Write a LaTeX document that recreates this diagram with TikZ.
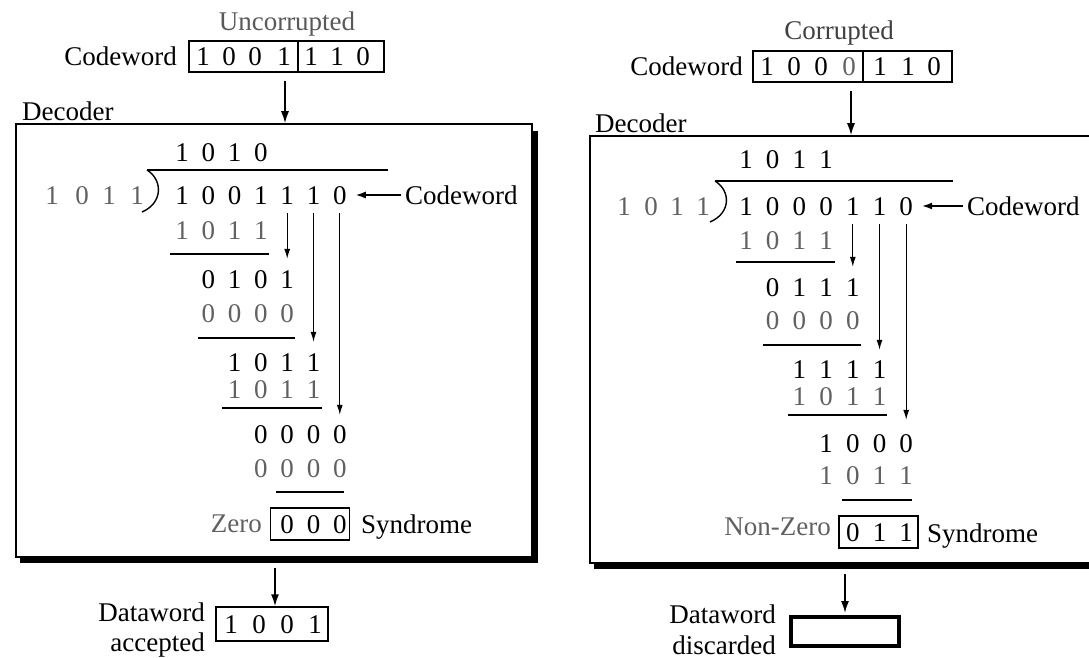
\documentclass[tikz,border=0pt]{standalone}
\usepackage{fontspec}
\setmainfont{Liberation Serif}
\usetikzlibrary{arrows.meta,calc}
\newcommand\drow[6][]{\foreach \d [count=\k from #4] in {#5}{\node[dig,#1] (#2#3-\k) at ({\xo+\dx*\k},#6) {\d};}}
\begin{document}
\begin{tikzpicture}[x=1pt,y=-1pt,
  every node/.style={font=\fontsize{27}{30}\selectfont, inner sep=0pt},
  dig/.style={text height=18pt, text depth=0pt, anchor=center},
  lbl/.style={text height=18pt, text depth=0pt},
  lite/.style={text=black!62},
  dk/.style={},
  ln/.style={line width=1.4pt},
  arr/.style={line width=1.6pt,-{Latex[length=12pt,width=8pt]}},
  sarr/.style={line width=1.1pt,-{Latex[length=10pt,width=6pt]}},
  box/.style={draw,line width=1.5pt}]
\useasboundingbox (0,0) rectangle (1089,658);
\clip (0,0) rectangle (1089,658);

% ================= LEFT PANEL =================
\def\xo{182}\def\dx{26.3}
\node[lbl,text=black!65] (Lunc) at (287,22) {Uncorrupted};
\node[lbl,anchor=east] (Lcwl) at (177,57) {Codeword};
\node[box,minimum width=195pt,minimum height=31pt] (Lcw) at (286.5,56.5) {};
\draw[ln] (298,41) -- (298,72);
\foreach \x/\d [count=\k] in {203/1,229/0,255/0,284/1,311/1,337/1,363/0}
  \node[dig] (Lw-\k) at (\x,57) {\d};
\node[box,minimum width=516pt,minimum height=433pt] (Ldec) at (274,340.5) {};
\draw[line width=5pt] ($(Ldec.north east)+(2.5,8)$) -- ($(Ldec.south east)+(2.5,2.5)$) -- ($(Ldec.south west)+(5,2.5)$);
\node[lbl,anchor=south west] (Ldl) at (22,121) {Decoder};
\coordinate (La) at (285,0);
\draw[arr] ([yshift=-8pt]Lcw.south -| La) -- (Ldec.north -| La);

\drow{L}{q}{0}{1,0,1,0}{152}
\draw[ln] (147,170) -- (388,170);
\draw[ln] (147,170) .. controls (163,180) and (163,203) .. (142,212);
\foreach \x/\d [count=\k] in {52/1,82/0,109/1,137/1}
  \node[dig,lite] (Lv-\k) at (\x,195) {\d};
\drow{L}{d}{0}{1,0,0,1,1,1,0}{195}
\node[lbl,anchor=west] (Lcwd) at (405,195) {Codeword};
\draw[arr,line width=1.4pt,-{Latex[length=10pt,width=7pt]}] ([xshift=-4pt]Lcwd.west) -- ([xshift=9pt]Ld-6.east);
\drow[lite]{L}{a}{0}{1,0,1,1}{230}
\draw[ln] (170,254) -- (269,254);
\drow{L}{b}{1}{0,1,0,1}{279}
\drow[lite]{L}{c}{1}{0,0,0,0}{313}
\draw[ln] (198,338) -- (295,338);
\drow{L}{e}{2}{1,0,1,1}{362}
\drow[lite]{L}{f}{2}{1,0,1,1}{389}
\draw[ln] (222,408) -- (322,408);
\drow{L}{g}{3}{0,0,0,0}{434}
\drow[lite]{L}{h}{3}{0,0,0,0}{468}
\draw[ln] (276,492) -- (344,492);
\draw[sarr] ([yshift=-9pt]Ld-4.south) -- ([yshift=11pt]Lb-4.north);
\draw[sarr] ([yshift=-9pt]Ld-5.south) -- ([yshift=11pt]Le-5.north);
\draw[sarr] ([yshift=-9pt]Ld-6.south) -- ([yshift=10pt]Lg-6.north);

\node[lbl,lite,anchor=east] (Lzero) at (262,523) {Zero};
\node[box,minimum width=79pt,minimum height=32pt] (Lsyn) at (310,524) {};
\drow{L}{s}{4}{0,0,0}{524}
\node[lbl,anchor=west] (Lsynl) at (361,524) {Syndrome};

\node[box,minimum width=112pt,minimum height=34pt] (Ldw) at (272,624) {};
\foreach \x/\d [count=\k] in {231/1,259/0,287/0,315/1}
  \node[dig] (Lo-\k) at (\x,624) {\d};
\coordinate (Lb) at (275,0);
\draw[arr] ([yshift=-10pt]Ldec.south -| Lb) -- (Ldw.north -| Lb);
\node[anchor=base east] (Ldw1) at (205,621) {Dataword};
\node[anchor=base east] (Ldw2) at (205,651) {accepted};

% ================= RIGHT PANEL =================
\def\xo{746}\def\dx{26.7}
\node[lbl,text=black!75] (Runc) at (839,31) {Corrupted};
\node[lbl,anchor=east] (Rcwl) at (743,67) {Codeword};
\node[box,minimum width=199pt,minimum height=31pt] (Rcw) at (852.5,66.5) {};
\draw[ln] (863,51) -- (863,82);
\foreach \x/\d/\s [count=\k] in {767/1/dk,794/0/dk,821/0/dk,849/0/lite,880/1/dk,908/1/dk,934/0/dk}
  \node[dig,\s] (Rw-\k) at (\x,67) {\d};
\node[box,minimum width=520pt,minimum height=427pt] (Rdec) at (850,349.5) {};
\draw[line width=5pt] ($(Rdec.south west)+(5,2.5)$) -- ($(Rdec.south east)+(0,2.5)$);
\node[lbl,anchor=south west] (Rdl) at (595,133) {Decoder};
\coordinate (Ra) at (851,0);
\draw[arr] ([yshift=-8pt]Rcw.south -| Ra) -- (Rdec.north -| Ra);

\drow{R}{q}{0}{1,0,1,1}{159}
\draw[ln] (715,181) -- (953,181);
\draw[ln] (715,181) .. controls (731,191) and (731,213) .. (710,222);
\foreach \x/\d [count=\k] in {624/1,651/0,677/1,703/1}
  \node[dig,lite] (Rv-\k) at (\x,206) {\d};
\drow{R}{d}{0}{1,0,0,0,1,1,0}{206}
\node[lbl,anchor=west] (Rcwd) at (967,206) {Codeword};
\draw[arr,line width=1.4pt,-{Latex[length=10pt,width=7pt]}] ([xshift=-4pt]Rcwd.west) -- ([xshift=9pt]Rd-6.east);
\drow[lite]{R}{a}{0}{1,0,1,1}{240}
\draw[ln] (736,262) -- (835,262);
\drow{R}{b}{1}{0,1,1,1}{287}
\drow[lite]{R}{c}{1}{0,0,0,0}{320}
\draw[ln] (763,345) -- (861,345);
\drow{R}{e}{2}{1,1,1,1}{369}
\drow[lite]{R}{f}{2}{1,0,1,1}{396}
\draw[ln] (788,415) -- (887,415);
\drow{R}{g}{3}{1,0,0,0}{443}
\drow[lite]{R}{h}{3}{1,0,1,1}{475}
\draw[ln] (842,500) -- (912,500);
\draw[sarr] ([yshift=-9pt]Rd-4.south) -- ([yshift=11pt]Rb-4.north);
\draw[sarr] ([yshift=-9pt]Rd-5.south) -- ([yshift=10pt]Re-5.north);
\draw[sarr] ([yshift=-9pt]Rd-6.south) -- ([yshift=14pt]Rg-6.north);

\node[lbl,lite,anchor=east] (Rzero) at (831,526) {Non-Zero};
\node[box,minimum width=79pt,minimum height=32pt] (Rsyn) at (878.5,532) {};
\drow{R}{s}{4}{0,1,1}{532}
\node[lbl,anchor=west] (Rsynl) at (927,533) {Syndrome};

\node[draw,line width=4pt,minimum width=108pt,minimum height=29pt] (Rdw) at (845,631.5) {};
\coordinate (Rb) at (845,0);
\draw[arr] ([yshift=-10pt]Rdec.south -| Rb) -- ([yshift=2pt]Rdw.north -| Rb);
\node[anchor=base east] (Rdw1) at (776,623) {Dataword};
\node[anchor=base east] (Rdw2) at (776,654) {discarded};
\end{tikzpicture}
\end{document}
